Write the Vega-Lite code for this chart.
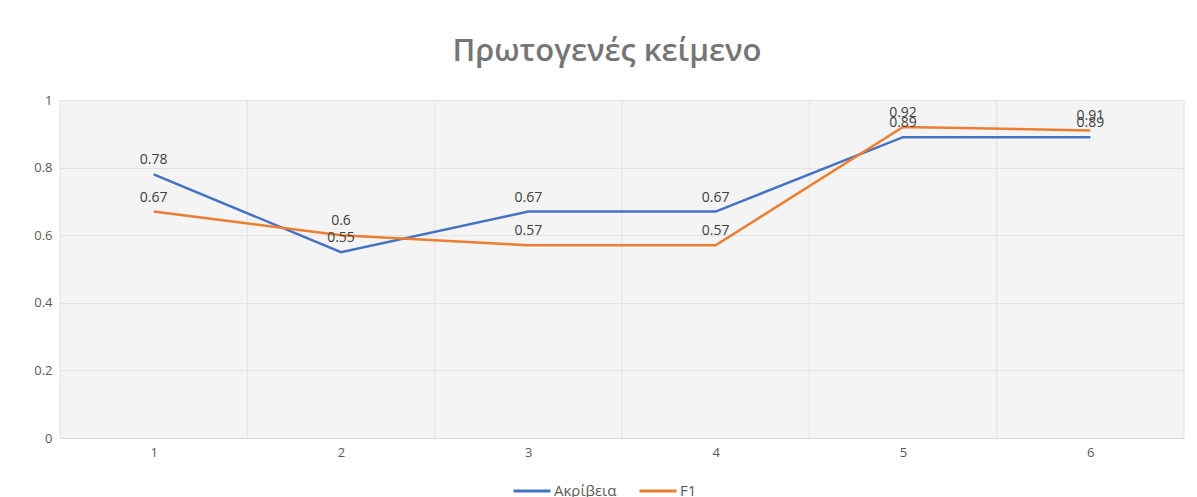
{
  "$schema": "https://vega.github.io/schema/vega-lite/v6.json",
  "width": 1124,
  "height": 338,
  "autosize": {"type": "none"},
  "padding": {"left": 60, "top": 100, "right": 13, "bottom": 59},
  "background": "white",
  "title": {
    "text": "Πρωτογενές κείμενο",
    "font": "Open Sans",
    "fontSize": 31,
    "fontWeight": 600,
    "color": "#757575",
    "offset": 26,
    "dx": -15
  },
  "config": {
    "view": {"stroke": null, "fill": "#f4f4f4"},
    "font": "Open Sans"
  },
  "datasets": {
    "main": [
      {"x": 1, "series": "Ακρίβεια", "value": 0.78},
      {"x": 2, "series": "Ακρίβεια", "value": 0.55},
      {"x": 3, "series": "Ακρίβεια", "value": 0.67},
      {"x": 4, "series": "Ακρίβεια", "value": 0.67},
      {"x": 5, "series": "Ακρίβεια", "value": 0.89},
      {"x": 6, "series": "Ακρίβεια", "value": 0.89},
      {"x": 1, "series": "F1", "value": 0.67},
      {"x": 2, "series": "F1", "value": 0.6},
      {"x": 3, "series": "F1", "value": 0.57},
      {"x": 4, "series": "F1", "value": 0.57},
      {"x": 5, "series": "F1", "value": 0.92},
      {"x": 6, "series": "F1", "value": 0.91}
    ],
    "grid": [
      {"g": 0.5}, {"g": 1.5}, {"g": 2.5}, {"g": 3.5}, {"g": 4.5}, {"g": 5.5}, {"g": 6.5}
    ]
  },
  "layer": [
    {
      "data": {"name": "grid"},
      "mark": {"type": "rule", "color": "#e2e2e2", "strokeWidth": 1},
      "encoding": {
        "x": {"field": "g", "type": "quantitative", "scale": {"domain": [0.5, 6.5]}}
      }
    },
    {
      "data": {"name": "main"},
      "mark": {"type": "line", "strokeWidth": 2.5},
      "encoding": {
        "x": {
          "field": "x", "type": "quantitative",
          "scale": {"domain": [0.5, 6.5], "nice": false, "zero": false},
          "axis": {
            "title": null, "values": [1, 2, 3, 4, 5, 6], "format": "d",
            "grid": false, "ticks": false, "domainColor": "#d9d9d9",
            "labelColor": "#595959", "labelFontSize": 13, "labelPadding": 8
          }
        },
        "y": {
          "field": "value", "type": "quantitative",
          "scale": {"domain": [0, 1], "nice": false},
          "axis": {
            "title": null, "values": [0, 0.2, 0.4, 0.6, 0.8, 1], "format": "~g",
            "domain": false, "ticks": false, "gridColor": "#e2e2e2",
            "labelColor": "#595959", "labelFontSize": 13, "labelPadding": 8
          }
        },
        "color": {
          "field": "series", "type": "nominal",
          "scale": {"domain": ["Ακρίβεια", "F1"], "range": ["#4472C4", "#ED7D31"]},
          "legend": {
            "title": null, "orient": "none", "legendX": 452, "legendY": 371,
            "direction": "horizontal",
            "symbolType": "stroke", "symbolSize": 1369, "symbolStrokeWidth": 3,
            "labelFontSize": 15, "labelColor": "#595959", "labelOffset": 2,
            "columnPadding": 16
          }
        }
      }
    },
    {
      "data": {"name": "main"},
      "mark": {"type": "text", "dy": -14, "fontSize": 14, "color": "#404040"},
      "encoding": {
        "x": {"field": "x", "type": "quantitative"},
        "y": {"field": "value", "type": "quantitative"},
        "text": {"field": "value", "type": "quantitative", "format": "~g"}
      }
    }
  ]
}
